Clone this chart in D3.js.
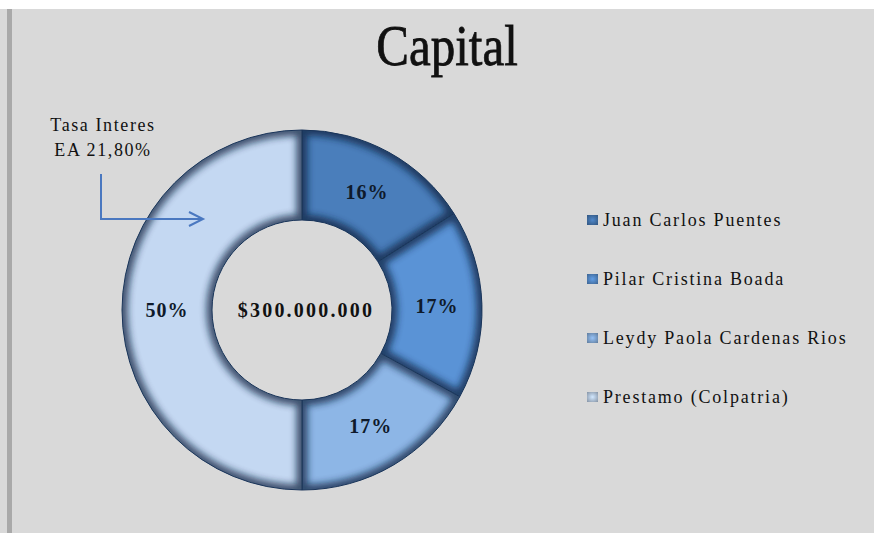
<!DOCTYPE html>
<html>
<head>
<meta charset="utf-8">
<script src="https://cdn.jsdelivr.net/npm/d3@7"></script>
<style>
  html, body { margin: 0; padding: 0; background: #ffffff; }
  svg { display: block; }
</style>
</head>
<body>
<svg id="chart" width="874" height="533"></svg>
<script>
// Capital contributions
const categories = [
  "Juan Carlos Puentes",
  "Pilar Cristina Boada",
  "Leydy Paola Cardenas Rios",
  "Prestamo (Colpatria)"
];
const amounts = [48000000, 51000000, 51000000, 150000000];
const sliceColors = ["#4a7ebb", "#5a93d6", "#8db6e6", "#c4d8f2"];
const titleText = "Capital";
const noteLines = ["Tasa Interes", "EA 21,80%"];

const W = 874, H = 533;
const svg = d3.select("#chart");

// chart area background with left rule
svg.append("rect").attr("x", 0).attr("y", 9).attr("width", W).attr("height", H - 9).attr("fill", "#d9d9d9");
svg.append("rect").attr("x", 7).attr("y", 9).attr("width", 5).attr("height", H - 9).attr("fill", "#a9a9a9");

const defs = svg.append("defs");

// soft blur for the bevel edge shading
defs.append("filter").attr("id", "soft")
  .attr("x", "-20%").attr("y", "-20%").attr("width", "140%").attr("height", "140%")
  .append("feGaussianBlur").attr("stdDeviation", 3.5);

// legend swatch gradients
sliceColors.forEach((c, i) => {
  const g = defs.append("radialGradient").attr("id", "sw" + i).attr("r", "75%");
  g.append("stop").attr("offset", "0%").attr("stop-color", d3.color(c).brighter(0.2));
  g.append("stop").attr("offset", "100%").attr("stop-color", d3.color(c).darker(1.2));
});

// title
svg.append("text")
  .attr("transform", "translate(447,65) scale(0.86,1)")
  .attr("text-anchor", "middle")
  .attr("font-family", "'Liberation Serif', 'DejaVu Serif', serif")
  .attr("font-size", 57)
  .attr("fill", "#111")
  .attr("stroke", "#111").attr("stroke-width", 0.8)
  .text(titleText);

// donut
const cx = 302, cy = 310, rOuter = 180, rInner = 90;
const pie = d3.pie().sort(null).value(d => d);
const arcs = pie(amounts);
const arc = d3.arc().innerRadius(rInner).outerRadius(rOuter);
const labelArc = d3.arc().innerRadius((rInner + rOuter) / 2).outerRadius((rInner + rOuter) / 2);
const total = d3.sum(amounts);

const g = svg.append("g").attr("transform", `translate(${cx},${cy})`);

arcs.forEach((d, i) => {
  defs.append("clipPath").attr("id", "clip" + i)
    .append("path").attr("d", arc(d));
});

const slices = g.selectAll("g.slice")
  .data(arcs)
  .join("g")
  .attr("class", "slice");

slices.append("path")
  .attr("d", arc)
  .attr("fill", (d, i) => sliceColors[i]);

// darkened bevel along every edge of a slice
slices.append("g")
  .attr("clip-path", (d, i) => `url(#clip${i})`)
  .append("path")
  .attr("d", arc)
  .attr("fill", "none")
  .attr("stroke", "#0d2240")
  .attr("stroke-width", 11)
  .attr("opacity", 0.75)
  .attr("filter", "url(#soft)");

slices.append("path")
  .attr("d", arc)
  .attr("fill", "none")
  .attr("stroke", "#1a3459")
  .attr("stroke-width", 1);

const pct = d3.format(".0%");
g.selectAll("text.pct")
  .data(arcs)
  .join("text")
  .attr("class", "pct")
  .attr("transform", d => `translate(${labelArc.centroid(d)})`)
  .attr("text-anchor", "middle")
  .attr("dy", "0.35em")
  .attr("font-family", "'Liberation Serif', serif")
  .attr("font-size", 20)
  .attr("font-weight", "bold")
  .attr("letter-spacing", 1)
  .attr("fill", "#0f1a2b")
  .text(d => pct(d.value / total));

// total in the hole
const money = v => "$" + d3.format(",")(v).replace(/,/g, ".");
g.append("text")
  .attr("x", 4).attr("y", 0)
  .attr("text-anchor", "middle")
  .attr("dy", "0.35em")
  .attr("font-family", "'Liberation Serif', serif")
  .attr("font-size", 20)
  .attr("font-weight", "bold")
  .attr("letter-spacing", 2.2)
  .attr("fill", "#111")
  .text(money(total));

// interest-rate note with elbow arrow
svg.append("text")
  .attr("x", 103).attr("y", 0)
  .attr("text-anchor", "middle")
  .attr("font-family", "'Liberation Serif', serif")
  .attr("font-size", 18)
  .attr("letter-spacing", 1.6)
  .attr("fill", "#111")
  .selectAll("tspan")
  .data(noteLines)
  .join("tspan")
  .attr("x", 103)
  .attr("y", (d, i) => 131 + i * 25)
  .text(d => d);

const arrowColor = "#4a78c0";
svg.append("path")
  .attr("d", d3.line()([[101, 174], [101, 219], [203, 219]]))
  .attr("fill", "none").attr("stroke", arrowColor).attr("stroke-width", 2);
svg.append("path")
  .attr("d", d3.line()([[189, 212], [203, 219], [189, 226]]))
  .attr("fill", "none").attr("stroke", arrowColor).attr("stroke-width", 2)
  .attr("stroke-linejoin", "miter");

// legend
const legendY = d3.scalePoint().domain(categories).range([226, 403]);
const legend = svg.append("g");
const items = legend.selectAll("g")
  .data(categories)
  .join("g")
  .attr("transform", d => `translate(587,${legendY(d)})`);
items.append("rect")
  .attr("x", 0).attr("y", -11)
  .attr("width", 11).attr("height", 10)
  .attr("fill", (d, i) => `url(#sw${i})`);
items.append("text")
  .attr("x", 16).attr("y", 0)
  .attr("font-family", "'Liberation Serif', serif")
  .attr("font-size", 18)
  .attr("letter-spacing", 1.8)
  .attr("fill", "#111")
  .text(d => d);
</script>
</body>
</html>
